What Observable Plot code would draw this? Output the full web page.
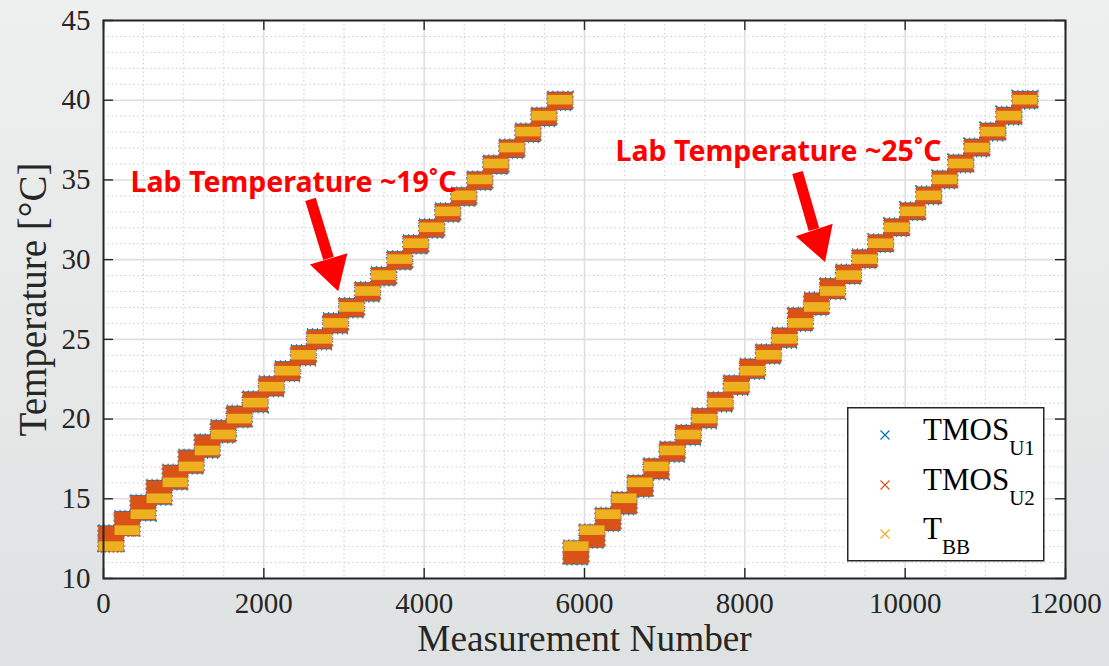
<!DOCTYPE html>
<html><head><meta charset="utf-8">
<script src="https://cdn.jsdelivr.net/npm/d3@7"></script>
<script src="https://cdn.jsdelivr.net/npm/@observablehq/plot@0.6"></script>
<style>
body{margin:0;}
#wrap{position:relative;width:1109px;height:666px;overflow:hidden;background:linear-gradient(#eef0ef,#dfe2e2);}
#wrap svg{display:block;}
#legend{position:absolute;left:847px;top:407px;}
</style></head>
<body><div id="wrap"><div id="chart"></div>
<svg id="legend" width="199" height="156"></svg></div>
<script>
// ---- data ----
const stepLength = 200; // measurements per setpoint
const run1Start = [0,200,400,600,800,1000,1200,1400,1600,1800,2000,2200,2400,2600,2800,3000,3200,3400,3600,3800,4000,4200,4400,4600,4800,5000,5200,5400,5600];
const run2Start = [5800,6000,6200,6400,6600,6800,7000,7200,7400,7600,7800,8000,8200,8400,8600,8800,9000,9200,9400,9600,9800,10000,10200,10400,10600,10800,11000,11200,11400];
const setpointBB = [12,13,14,15,16,17,18,19,20,21,22,23,24,25,26,27,28,29,30,31,32,33,34,35,36,37,38,39,40];

const u2Run1Lo = [11.95,12.95,13.95,14.95,15.9,16.9,17.9,18.85,19.8,20.75,21.75,22.7,23.7,24.7,25.7,26.7,27.7,28.7,29.7,30.7,31.7,32.7,33.7,34.7,35.7,36.7,37.7,38.7,39.7];
const u2Run1Hi = [12.95,13.85,14.85,15.8,16.75,17.7,18.65,19.55,20.45,21.35,22.3,23.25,24.25,25.25,26.25,27.2,28.2,29.15,30.15,31.15,32.15,33.15,34.15,35.15,36.15,37.15,38.15,39.15,40.15];
const u1Run1Lo = [12.0,12.95,13.9,14.9,15.85,16.85,17.85,18.8,19.75,20.7,21.7,22.65,23.65,24.65,25.65,26.65,27.65,28.65,29.65,30.65,31.65,32.65,33.65,34.65,35.65,36.65,37.65,38.65,39.65];
const u1Run1Hi = [13.0,13.9,14.9,15.85,16.8,17.75,18.7,19.6,20.5,21.4,22.35,23.3,24.3,25.3,26.3,27.25,28.25,29.2,30.2,31.2,32.2,33.2,34.2,35.2,36.2,37.2,38.2,39.2,40.2];

const u2Run2Lo = [11.2,12.25,13.3,14.35,15.45,16.55,17.65,18.7,19.75,20.8,21.85,22.85,23.8,24.8,25.85,26.85,27.85,28.8,29.8,30.8,31.8,32.8,33.8,34.8,35.8,36.8,37.8,38.8,39.8];
const u2Run2Hi = [12.0,13.0,14.05,15.05,16.1,17.15,18.2,19.25,20.3,21.3,22.35,23.4,24.3,25.35,26.6,27.55,28.45,29.3,30.25,31.2,32.2,33.2,34.2,35.2,36.2,37.2,38.2,39.2,40.2];
const u1Run2Lo = [11.15,12.2,13.25,14.3,15.4,16.5,17.6,18.65,19.7,20.75,21.8,22.8,23.75,24.75,25.8,26.8,27.8,28.75,29.75,30.75,31.75,32.75,33.75,34.75,35.75,36.75,37.75,38.75,39.75];
const u1Run2Hi = [12.05,13.05,14.1,15.1,16.15,17.2,18.25,19.3,20.35,21.35,22.4,23.45,24.35,25.4,26.65,27.6,28.5,29.35,30.3,31.25,32.25,33.25,34.25,35.25,36.25,37.25,38.25,39.25,40.25];

const xTicks = [0,2000,4000,6000,8000,10000,12000];
const xMinor = [500,1000,1500,2500,3000,3500,4500,5000,5500,6500,7000,7500,8500,9000,9500,10500,11000,11500];
const yTicks = [10,15,20,25,30,35,40,45];
const yMinor = [11,12,13,14,16,17,18,19,21,22,23,24,26,27,28,29,31,32,33,34,36,37,38,39,41,42,43,44];

const seriesNames = ["TMOS", "TMOS", "T"];
const seriesSubs = ["U1", "U2", "BB"];
const seriesColors = ["#0072BD", "#D95319", "#EDB120"];

const annoText = ["Lab Temperature ~19˚C", "Lab Temperature ~25˚C"];
const annoX = [337, 6387];
const annoY = [34.84, 36.73];
const arrowTailX = [2582, 8657], arrowTailY = [33.78, 35.47];
const arrowBaseX = [2807, 8862], arrowBaseY = [30.08, 31.89];
const arrowHeadX = [2848, 8910], arrowHeadY = [29.37, 31.19];
const arrowAngle = [163.6, 161.3];

// ---- tables ----
function band(starts, lo, hi) {
  return starts.map((s, i) => ({x1: s, x2: s + stepLength, y1: lo[i], y2: hi[i]}));
}
const blue = [...band(run1Start, u1Run1Lo, u1Run1Hi), ...band(run2Start, u1Run2Lo, u1Run2Hi)];
const orange = [...band(run1Start, u2Run1Lo, u2Run1Hi), ...band(run2Start, u2Run2Lo, u2Run2Hi)];
const yellow = [...band(run1Start, setpointBB, setpointBB), ...band(run2Start, setpointBB, setpointBB)];
const annos = annoText.map((t, i) => ({t, x: annoX[i], y: annoY[i]}));
const arrows = arrowTailX.map((_, i) => ({x1: arrowTailX[i], y1: arrowTailY[i], x2: arrowBaseX[i], y2: arrowBaseY[i], hx: arrowHeadX[i], hy: arrowHeadY[i], a: arrowAngle[i]}));

const W = 1109, H = 666, mT = 20, mR = 44, mB = 88, mL = 103;
const iW = W - mL - mR, iH = H - mT - mB;
const serif = "Liberation Serif";
const ink = "#262626";
const mk = {insetLeft: -4.5, insetRight: -4.5, insetTop: -4.8, insetBottom: -4.8};

const plot = Plot.plot({
  width: W, height: H,
  marginTop: mT, marginRight: mR, marginBottom: mB, marginLeft: mL,
  style: {background: "transparent", color: ink, fontFamily: "Liberation Serif, serif"},
  x: {domain: [0, 12000], axis: null},
  y: {domain: [10, 45], axis: null},
  marks: [
    Plot.frame({fill: "white"}),
    Plot.ruleX(xMinor, {stroke: "#c4c4c4", strokeWidth: 1, strokeDasharray: "1.3,3"}),
    Plot.ruleY(yMinor, {stroke: "#c4c4c4", strokeWidth: 1, strokeDasharray: "1.3,3"}),
    Plot.ruleX(xTicks, {stroke: "#dedede", strokeWidth: 1.6}),
    Plot.ruleY(yTicks, {stroke: "#dedede", strokeWidth: 1.6}),
    Plot.rect(blue, {x1: "x1", x2: "x2", y1: "y1", y2: "y2", fill: seriesColors[0], stroke: seriesColors[0], strokeWidth: 2.5, strokeDasharray: "1,4", ...mk}),
    Plot.rect(orange, {x1: "x1", x2: "x2", y1: "y1", y2: "y2", fill: seriesColors[1], stroke: seriesColors[1], strokeWidth: 2, strokeDasharray: "1.5,2.5", ...mk}),
    Plot.rect(yellow, {x1: "x1", x2: "x2", y1: "y1", y2: "y2", fill: seriesColors[2], ...mk}),
    Plot.link(arrows, {x1: "x1", y1: "y1", x2: "x2", y2: "y2", stroke: "#ff0000", strokeWidth: 11}),
    Plot.dot(arrows, {x: "hx", y: "hy", r: 14.5, symbol: d3.symbolTriangle, fill: "#ff0000", stroke: "none", rotate: "a"}),
    Plot.text(annos, {x: "x", y: "y", text: "t", textAnchor: "start", fill: "#ff0000", fontSize: 28.5, fontWeight: "bold", fontFamily: "Noto Sans"}),
    Plot.tickX(xTicks, {stroke: ink, strokeWidth: 1.4, insetTop: iH - 10}),
    Plot.tickX(xTicks, {stroke: ink, strokeWidth: 1.4, insetBottom: iH - 10}),
    Plot.tickY(yTicks, {stroke: ink, strokeWidth: 1.4, insetRight: iW - 10}),
    Plot.tickY(yTicks, {stroke: ink, strokeWidth: 1.4, insetLeft: iW - 10}),
    Plot.frame({stroke: ink, strokeWidth: 2}),
    Plot.text(xTicks, {x: d => d, text: d => String(d), frameAnchor: "bottom", lineAnchor: "top", dy: 14, fontSize: 29, fontFamily: serif, fill: ink}),
    Plot.text(yTicks, {y: d => d, text: d => String(d), frameAnchor: "left", textAnchor: "end", dx: -13, fontSize: 29, fontFamily: serif, fill: ink}),
    Plot.text(["Measurement Number"], {frameAnchor: "bottom", textAnchor: "middle", dy: 72, fontSize: 37.3, fontFamily: serif, fill: ink}),
    Plot.text(["Temperature [°C]"], {frameAnchor: "left", textAnchor: "middle", dx: -70, rotate: -90, fontSize: 39, fontFamily: serif, fill: ink})
  ]
});
document.getElementById("chart").appendChild(plot);

// legend
const lg = d3.select("#legend");
lg.append("rect").attr("x", 0.75).attr("y", 0.75).attr("width", 196).attr("height", 153)
  .attr("fill", "white").attr("stroke", ink).attr("stroke-width", 1.5);
const rowY = [28, 78, 127];
seriesNames.forEach((name, i) => {
  const cx = 38, cy = rowY[i], s = 4.5;
  lg.append("path").attr("d", `M${cx-s},${cy-s}L${cx+s},${cy+s}M${cx-s},${cy+s}L${cx+s},${cy-s}`)
    .attr("stroke", seriesColors[i]).attr("stroke-width", 1.2).attr("fill", "none");
  const t = lg.append("text").attr("x", 76).attr("y", cy + 5).attr("font-family", serif).attr("font-size", 31).attr("fill", "#000");
  t.append("tspan").text(name);
  t.append("tspan").attr("dy", 15).attr("font-size", 21).text(seriesSubs[i]);
});
</script></body></html>
